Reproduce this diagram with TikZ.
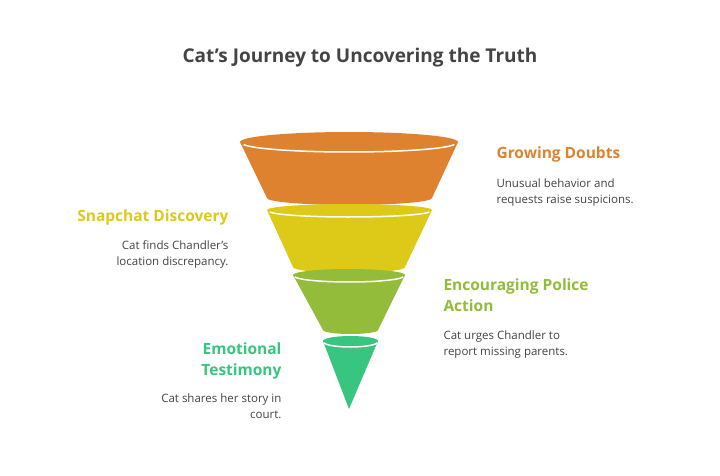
\documentclass[tikz,border=0pt]{standalone}
\usepackage{fontspec}
\setmainfont{Open Sans}
\definecolor{cOr}{HTML}{DE8230}
\definecolor{cYe}{HTML}{DDC918}
\definecolor{cGr}{HTML}{92BC3A}
\definecolor{cTe}{HTML}{37C580}
\definecolor{cTx}{HTML}{444444}
\begin{document}
\begin{tikzpicture}[x=1pt,y=-1pt,
 head/.style={font=\fontsize{15.5}{17}\selectfont\bfseries},
 body/.style={font=\fontsize{11.5}{16}\selectfont, text=cTx},
 wl/.style={draw=white,line width=1.5pt}]
\useasboundingbox[fill=white] (0,0) rectangle (720,476);
\node[font=\fontsize{19}{22}\selectfont\bfseries,text=cTx] (title) at (360,58) {Cat's Journey to Uncovering the Truth};
% orange
\fill[cOr] (349,142) ellipse[x radius=109,y radius=10];
\fill[cOr] (240,142) -- (458,142) -- (432,198) -- (267,198) -- cycle;
\fill[cOr] (349.5,198) ellipse[x radius=82.5,y radius=7];
\draw[wl] (349,143) ++(10:107 and 9) arc[start angle=10,end angle=170,x radius=107,y radius=9];
% yellow
\fill[cYe] (349.5,210) ellipse[x radius=82.5,y radius=6];
\fill[cYe] (267,210) -- (432,210) -- (405,267) -- (293,267) -- cycle;
\fill[cYe] (349,267) ellipse[x radius=56,y radius=6];
\draw[wl] (349.5,211) ++(10:81 and 6) arc[start angle=10,end angle=170,x radius=81,y radius=6];
% green
\fill[cGr] (349,275) ellipse[x radius=56,y radius=6];
\fill[cGr] (293,275) -- (405,275) -- (378,330) -- (323,330) -- cycle;
\fill[cGr] (350.5,330) ellipse[x radius=27.5,y radius=4];
\draw[wl] (349,276) ++(10:55 and 6) arc[start angle=10,end angle=170,x radius=55,y radius=6];
% teal
\fill[cTe] (350.5,341) ellipse[x radius=27.5,y radius=5];
\fill[cTe] (323,341) -- (378,341) -- (349,409) -- cycle;
\draw[wl] (350.5,342) ++(10:27 and 5) arc[start angle=10,end angle=170,x radius=27,y radius=5];
% labels
\node[head,text=cOr,anchor=west] (h1) at (493,154) {Growing Doubts};
\node[body,anchor=north west,align=left] (b1) at (493,175) {Unusual behavior and\\requests raise suspicions.};
\node[head,text=cYe,anchor=east] (h2) at (232,217) {Snapchat Discovery};
\node[body,anchor=north east,align=right] (b2) at (232,237) {Cat finds Chandler's\\location discrepancy.};
\node[head,text=cGr,anchor=north west,align=left,font=\fontsize{15.5}{21}\selectfont\bfseries] (h3) at (440,275) {Encouraging Police\\Action};
\node[body,anchor=north west,align=left] (b3) at (440,327) {Cat urges Chandler to\\report missing parents.};
\node[head,text=cTe,anchor=north east,align=right,font=\fontsize{15.5}{21}\selectfont\bfseries] (h4) at (285,339) {Emotional\\Testimony};
\node[body,anchor=north east,align=right] (b4) at (285,390) {Cat shares her story in\\court.};
\end{tikzpicture}
\end{document}
